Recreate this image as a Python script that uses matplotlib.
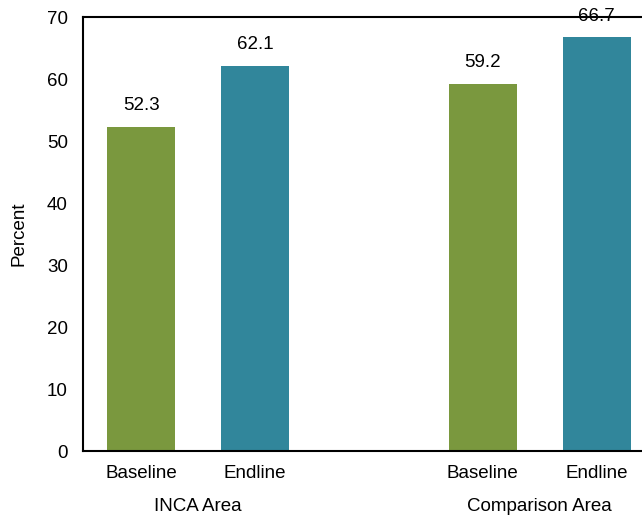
import matplotlib.pyplot as plt

# values in percent
groups = ['INCA Area', 'Comparison Area']
phases = ['Baseline', 'Endline']
baseline = [52.3, 59.2]
endline = [62.1, 66.7]

green = '#7a983e'
teal = '#31869b'
fs = 13.5


def main():
    plt.rcParams['font.family'] = ['Liberation Sans', 'DejaVu Sans']
    fig = plt.figure(figsize=(6.42, 5.17), dpi=100)
    ax = fig.add_axes([83 / 642, 66 / 517, 573 / 642, 434 / 517])

    width = 0.6
    xb = [0, 3]
    xe = [1, 4]
    b1 = ax.bar(xb, baseline, width, color=green)
    b2 = ax.bar(xe, endline, width, color=teal)
    for bars, vals in ((b1, baseline), (b2, endline)):
        for rect, v in zip(bars, vals):
            ax.annotate('%.1f' % v, (rect.get_x() + rect.get_width() / 2, v),
                        xytext=(0, 9), textcoords='offset points',
                        ha='center', va='bottom', fontsize=fs)

    ax.set_xlim(-0.51, 4.52)
    ax.set_ylim(0, 70)
    ax.set_yticks(range(0, 71, 10))
    ax.set_xticks(xb + xe)
    ax.set_xticklabels(phases[:1] * 2 + phases[1:] * 2)
    ax.tick_params(axis='both', length=0, labelsize=fs)
    ax.tick_params(axis='y', pad=11)
    ax.tick_params(axis='x', pad=10)
    ax.set_ylabel('Percent', fontsize=fs, labelpad=14)

    for s in ('left', 'top', 'bottom'):
        ax.spines[s].set_linewidth(1.5)
        ax.spines[s].set_color('black')
    ax.spines['right'].set_visible(False)

    for g, x in zip(groups, (0.5, 3.5)):
        ax.annotate(g, (x, 0), xytext=(0, -40), textcoords='offset points',
                    xycoords=('data', 'axes fraction'),
                    ha='center', va='center', fontsize=fs)

    plt.savefig('out.png', dpi=100)


if __name__ == '__main__':
    main()
